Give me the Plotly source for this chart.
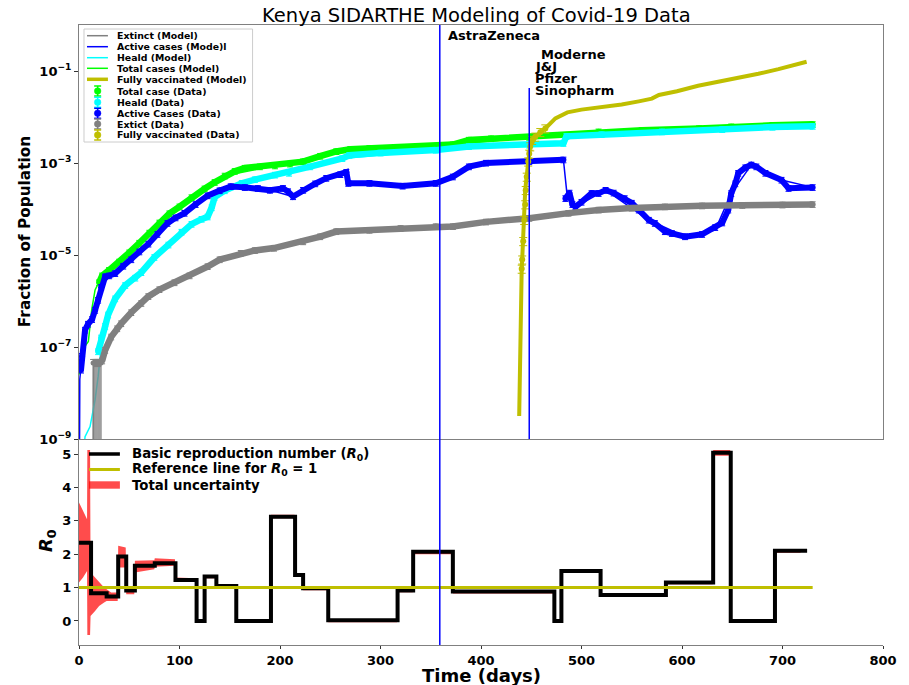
import plotly.graph_objects as go

# ---------------- Compartment data (day, log10 of fraction of population) ----------------
total_days = [20, 23, 30, 40, 50, 60, 70, 80, 90, 100, 112, 125, 135, 145, 155, 165, 180, 195,
              210, 223, 240, 256, 270, 289, 320, 355, 372, 388, 410, 448, 487, 517, 560, 617,
              649, 690, 730]
total_log = [-5.6, -5.45, -5.33, -5.15, -4.95, -4.74, -4.52, -4.3, -4.1, -3.95, -3.75, -3.56,
             -3.42, -3.28, -3.18, -3.11, -3.08, -3.06, -3.02, -2.97, -2.85, -2.75, -2.7, -2.68,
             -2.66, -2.64, -2.6, -2.5, -2.47, -2.44, -2.39, -2.32, -2.29, -2.25, -2.21, -2.18,
             -2.16]

heald_days = [19, 22, 26, 29, 36, 46, 56, 62, 75, 89, 102, 112, 122, 128, 132, 135, 145, 162,
              175, 195, 209, 230, 262, 269, 300, 355, 388, 448, 482, 485, 520, 580, 640, 690, 730]
heald_log = [-7.1, -6.8, -6.55, -6.3, -5.95, -5.66, -5.5, -5.38, -5.05, -4.78, -4.5, -4.33,
             -4.22, -4.17, -3.97, -3.74, -3.6, -3.44, -3.36, -3.26, -3.22, -3.08, -2.9, -2.83,
             -2.78, -2.72, -2.64, -2.61, -2.57, -2.42, -2.38, -2.32, -2.27, -2.22, -2.2]

active_days = [2, 3, 6, 9, 13, 16, 19, 22, 26, 30, 36, 44, 52, 60, 69, 78, 88, 96, 105, 116,
               128, 140, 151, 165, 178, 190, 203, 208, 213, 223, 235, 246, 260, 266, 268, 289,
               322, 355, 372, 388, 405, 448, 482,
               None,
               484, 488, 491, 494, 500, 510, 517, 524, 532, 543, 550, 557, 567, 573, 583, 590,
               603, 620, 633, 640, 646, 649, 653, 656, 663, 669, 674, 683, 699, 706, 730]
active_log = [-7.5, -7.2, -6.63, -6.5, -6.4, -6.2, -5.98, -5.7, -5.47, -5.45, -5.4, -5.24,
              -5.1, -4.93, -4.76, -4.55, -4.31, -4.19, -4.09, -3.9, -3.71, -3.6, -3.51, -3.53,
              -3.55, -3.59, -3.55, -3.62, -3.73, -3.59, -3.45, -3.33, -3.25, -3.2, -3.44, -3.44,
              -3.5, -3.44, -3.3, -3.08, -3.0, -2.97, -2.93,
              None,
              -3.77, -3.65, -3.9, -3.95, -3.85, -3.66, -3.66, -3.59, -3.65, -3.77, -3.87, -4.02,
              -4.24, -4.31, -4.49, -4.53, -4.6, -4.55, -4.4, -4.3, -4.02, -3.66, -3.45, -3.22,
              -3.1, -3.04, -3.08, -3.22, -3.37, -3.55, -3.53]

extinct_days = [23, 26, 32, 38, 42, 52, 62, 69, 80, 95, 110, 128, 140, 161, 175, 194, 223, 240,
                256, 289, 320, 355, 372, 405, 448, 487, 517, 550, 583, 620, 660, 700, 730]
extinct_log = [-7.3, -7.07, -6.78, -6.6, -6.49, -6.25, -6.05, -5.9, -5.75, -5.6, -5.45, -5.25,
               -5.1, -4.96, -4.9, -4.85, -4.71, -4.6, -4.49, -4.46, -4.42, -4.38, -4.38, -4.28,
               -4.2, -4.09, -4.02, -3.98, -3.95, -3.93, -3.92, -3.91, -3.9]
# first extinct reports, whose error bars reach below the plotted range
extinct_early_days = [14, 15, 16, 17, 18, 19, 20, 21, 22]
extinct_early_log = [-7.35, -7.35, -7.35, -7.35, -7.35, -7.35, -7.35, -7.35, -7.35]

vacc_days = [440.5, 441, 442, 443, 444, 444.5, 445.5, 447, 448, 449, 451, 454, 459, 464]
vacc_log = [-5.3, -5.1, -4.7, -4.24, -3.9, -3.59, -3.3, -2.97, -2.8, -2.64, -2.5, -2.43, -2.33,
            -2.25]

# ---------------- Model curves ----------------
total_model_days = [0, 1, 3, 9.3, 12.6, 16, 22.5, 30, 50, 80, 112, 145, 195, 256, 355, 448,
                    520, 640, 730]
total_model_log = [-7.6, -7.5, -7.07, -6.88, -6.2, -5.76, -5.47, -5.33, -4.95, -4.3, -3.75,
                   -3.28, -3.06, -2.75, -2.64, -2.44, -2.33, -2.24, -2.16]

heald_model_days = [4, 6, 11, 16, 19, 22, 26, 36, 56, 89, 112, 128, 135, 162, 195, 262, 355,
                    448, 482, 486, 600, 730]
heald_model_log = [-9.5, -8.95, -8.73, -8.15, -7.65, -7.0, -6.6, -5.95, -5.5, -4.78, -4.33,
                   -4.17, -3.74, -3.44, -3.26, -2.9, -2.72, -2.61, -2.57, -2.42, -2.3, -2.2]

active_model_days = [0, 0.8, 3, 6, 13, 19, 26, 36, 52, 69, 88, 105, 128, 151, 190, 213, 246,
                     266, 268, 322, 355, 388, 405, 482, 486, 494, 524, 567, 603, 633, 649, 669,
                     699, 730]
active_model_log = [-12, -7.7, -7.2, -6.63, -6.4, -5.98, -5.47, -5.4, -5.1, -4.76, -4.31,
                    -4.09, -3.71, -3.51, -3.59, -3.73, -3.33, -3.2, -3.44, -3.5, -3.44, -3.08,
                    -3.0, -2.93, -3.77, -3.95, -3.59, -4.24, -4.6, -4.46, -3.66, -3.04, -3.37,
                    -3.53]

extinct_model_days = [14, 14.5, 23, 32, 42, 62, 95, 128, 161, 194, 256, 355, 448, 517, 583, 730]
extinct_model_log = [-12, -7.35, -7.3, -6.78, -6.49, -6.05, -5.6, -5.25, -4.96, -4.85, -4.49,
                     -4.38, -4.2, -4.02, -3.95, -3.9]

vacc_model_days = [438, 438.5, 439, 439.7, 440.5, 441, 443, 444, 447, 449, 454, 464, 474, 486,
                   500, 517, 540, 557, 570, 577, 595, 616, 636, 656, 676, 696, 716, 724]
vacc_model_log = [-8.5, -7.5, -7.0, -6.0, -5.3, -5.1, -4.24, -3.59, -2.97, -2.64, -2.43, -2.25,
                  -2.03, -1.9, -1.84, -1.8, -1.73, -1.66, -1.6, -1.52, -1.44, -1.32, -1.24,
                  -1.15, -1.06, -0.96, -0.84, -0.8]

# ---------------- Vaccine roll-out ----------------
astra_day = 359
sinopharm_day = 448
sinopharm_top_log = -1.37
vaccine_names = ["AstraZeneca", "Moderne", "J&J", "Pfizer", "Sinopharm"]
vaccine_label_days = [365, 457.5, 451.5, 452, 452]
vaccine_label_log = [-0.22, -0.64, -0.91, -1.17, -1.42]

# ---------------- Basic reproduction number ----------------
r0_days = [0, 12, 27.5, 39, 47, 55.6, 75.4, 96, 117, 125, 136.7, 156.5, 191, 215, 223, 248, 317,
           332.5, 372, 473, 480, 519, 584, 631, 648.5, 692.5, 724.5]
r0_vals = [2.34, 0.83, 0.73, 1.93, 0.91, 1.65, 1.73, 1.23, 0.0, 1.33, 1.05, 0.0, 3.12, 1.38,
           0.98, 0.02, 0.91, 2.07, 0.88, 0.0, 1.5, 0.78, 1.15, 5.04, 0.0, 2.1, 2.1]

band_days = [0, 4, 8, 8.3, 11, 11.5, 16, 20, 25, 27.5, 32, 38.5, 39, 46.5, 47, 55, 55.6, 75,
             75.4, 95.5, 96, 116.5, 117, 124.5, 125, 136, 136.7, 156, 156.5, 190.5, 191, 214.5,
             215, 222.5, 223, 247.5, 248, 316.5, 317, 332, 332.5, 371.5, 372, 472.5, 473, 479.5,
             480, 518.5, 519, 583.5, 584, 630.5, 631, 648, 648.5, 692, 692.5, 718]
band_lo = [1.15, 1.3, 1.5, -0.42, -0.42, 0.15, 0.3, 0.45, 0.55, 0.6, 0.6, 0.6, 1.6, 1.6, 0.8,
           0.8, 1.45, 1.55, 1.62, 1.65, 1.18, 1.18, -0.05, -0.05, 1.28, 1.28, 1.0, 1.0, -0.05,
           -0.05, 3.08, 3.08, 1.33, 1.33, 0.92, 0.92, -0.04, -0.04, 0.86, 0.86, 2.0, 2.0, 0.82,
           0.82, -0.05, -0.05, 1.44, 1.44, 0.72, 0.72, 1.1, 1.1, 4.95, 4.95, -0.05, -0.05,
           2.04, 2.04]
band_hi = [3.55, 3.3, 3.05, 5.12, 5.12, 1.45, 1.3, 1.15, 1.0, 0.95, 0.85, 0.85, 2.25, 2.2, 1.0,
           0.98, 1.8, 1.82, 1.88, 1.85, 1.3, 1.28, 0.05, 0.05, 1.38, 1.38, 1.1, 1.08, 0.05,
           0.05, 3.18, 3.18, 1.43, 1.43, 1.02, 1.02, 0.06, 0.06, 0.95, 0.95, 2.12, 2.12, 0.92,
           0.92, 0.05, 0.05, 1.55, 1.55, 0.83, 0.83, 1.2, 1.2, 5.12, 5.12, 0.05, 0.05, 2.15,
           2.15]
ref_days = [0, 730]
ref_vals = [1, 1]

# axis ticks
top_tick_exps = [-9, -7, -5, -3, -1]
bottom_x_ticks = [0, 100, 200, 300, 400, 500, 600, 700, 800]
bottom_y_ticks = [0, 1, 2, 3, 4, 5]

# ---------------- Styling ----------------
GREY = "#808080"
BLUE = "#0000ff"
CYAN = "#00ffff"
GREEN = "#00ff00"
OLIVE = "#bfbf00"
FONT = "DejaVu Sans"
W, H = 909, 685
ML, MR, MT, MB = 79, 24, 25, 40
PW, PH = W - ML - MR, H - MT - MB
SPLIT = (645 - 439) / PH


def px_x(px):
    return (px - ML) / PW


def px_y(py):
    return (H - MB - py) / PH


def pow10(exps):
    return [None if e is None else 10 ** e for e in exps]


fig = go.Figure()


def model_line(days, logs, color, width=1.5):
    fig.add_trace(go.Scatter(x=days, y=pow10(logs), mode="lines",
                             line=dict(color=color, width=width),
                             xaxis="x", yaxis="y", showlegend=False, hoverinfo="skip"))


def data_line(days, logs, color, err=14, minus=None, lw=6.5, ms=6):
    ey = dict(type="percent", value=err, color=color, thickness=1, width=3)
    if minus is not None:
        ey["symmetric"] = False
        ey["valueminus"] = minus
    fig.add_trace(go.Scatter(x=days, y=pow10(logs), mode="lines+markers",
                             line=dict(color=color, width=lw),
                             marker=dict(color=color, size=ms), error_y=ey,
                             connectgaps=False,
                             xaxis="x", yaxis="y", showlegend=False, hoverinfo="skip"))


# model curves (thin)
model_line(extinct_model_days, extinct_model_log, GREY)
model_line(active_model_days, active_model_log, BLUE)
model_line(heald_model_days, heald_model_log, CYAN)
model_line(total_model_days, total_model_log, GREEN)

# reported data (thick with error bars)
data_line(total_days, total_log, GREEN)
data_line(heald_days, heald_log, CYAN)
data_line(active_days, active_log, BLUE, lw=6)
data_line(extinct_days, extinct_log, GREY)
data_line(extinct_early_days, extinct_early_log, GREY, err=20, minus=99.999, lw=8, ms=5)
fig.add_trace(go.Scatter(x=vacc_days, y=pow10(vacc_log), mode="markers",
                         marker=dict(color=OLIVE, size=6),
                         error_y=dict(type="percent", value=20, color=OLIVE, thickness=1,
                                      width=4),
                         xaxis="x", yaxis="y", showlegend=False, hoverinfo="skip"))
model_line(vacc_model_days, vacc_model_log, OLIVE, width=4)

# Sinopharm start marker line (top panel only)
fig.add_trace(go.Scatter(x=[sinopharm_day, sinopharm_day],
                         y=pow10([-9, sinopharm_top_log]), mode="lines",
                         line=dict(color=BLUE, width=1.5), xaxis="x", yaxis="y",
                         showlegend=False, hoverinfo="skip"))

# R0 panel
fig.add_trace(go.Scatter(x=band_days, y=band_lo, mode="lines", line=dict(width=0),
                         xaxis="x2", yaxis="y2", showlegend=False, hoverinfo="skip"))
fig.add_trace(go.Scatter(x=band_days, y=band_hi, mode="lines", line=dict(width=0),
                         fill="tonexty", fillcolor="rgba(255,0,0,0.7)",
                         xaxis="x2", yaxis="y2", showlegend=False, hoverinfo="skip"))
fig.add_trace(go.Scatter(x=r0_days, y=r0_vals, mode="lines", line_shape="hv",
                         line=dict(color="black", width=4),
                         xaxis="x2", yaxis="y2", showlegend=False, hoverinfo="skip"))
fig.add_trace(go.Scatter(x=ref_days, y=ref_vals, mode="lines",
                         line=dict(color=OLIVE, width=3),
                         xaxis="x2", yaxis="y2", showlegend=False, hoverinfo="skip"))

shapes = []
annotations = []

# AstraZeneca start line spans both panels
shapes.append(dict(type="line", xref="x", yref="paper", x0=astra_day, x1=astra_day,
                   y0=0, y1=1, line=dict(color=BLUE, width=1.5), layer="above"))

for name, d, lg in zip(vaccine_names, vaccine_label_days, vaccine_label_log):
    annotations.append(dict(text=name, x=d, y=lg, xref="x", yref="y", xanchor="left",
                            yanchor="middle", showarrow=False,
                            font=dict(family=FONT, size=13, color="black", weight="bold")))

# ---- top legend ----
shapes.append(dict(type="rect", xref="paper", yref="paper", x0=px_x(84), x1=px_x(253),
                   y0=px_y(142), y1=px_y(29), fillcolor="white",
                   line=dict(color="#cccccc", width=1), layer="above"))
legend_rows = [
    ("Extinct (Model)", GREY, "line", 1.5),
    ("Active cases (Mode)l", BLUE, "line", 1.5),
    ("Heald (Model)", CYAN, "line", 1.5),
    ("Total cases (Model)", GREEN, "line", 1.5),
    ("Fully vaccinated (Model)", OLIVE, "line", 3.5),
    ("Total case (Data)", GREEN, "marker", 0),
    ("Heald (Data)", CYAN, "marker", 0),
    ("Active Cases (Data)", BLUE, "marker", 0),
    ("Extict (Data)", GREY, "marker", 0),
    ("Fully vaccinated (Data)", OLIVE, "marker", 0),
]
row_y = [35.7, 46.7, 57.7, 68.3, 79.3, 91, 102.3, 113.3, 124, 135]
for (label, col, kind, lw), ry in zip(legend_rows, row_y):
    if kind == "line":
        shapes.append(dict(type="line", xref="paper", yref="paper", x0=px_x(87), x1=px_x(108),
                           y0=px_y(ry), y1=px_y(ry), line=dict(color=col, width=lw),
                           layer="above"))
    else:
        cx = 97.7
        shapes.append(dict(type="line", xref="paper", yref="paper", x0=px_x(cx), x1=px_x(cx),
                           y0=px_y(ry - 5), y1=px_y(ry + 5), line=dict(color=col, width=1.5),
                           layer="above"))
        for dy in (-5, 5):
            shapes.append(dict(type="line", xref="paper", yref="paper", x0=px_x(cx - 3.5),
                               x1=px_x(cx + 3.5), y0=px_y(ry + dy), y1=px_y(ry + dy),
                               line=dict(color=col, width=1.5), layer="above"))
        shapes.append(dict(type="circle", xref="paper", yref="paper", x0=px_x(cx - 3.3),
                           x1=px_x(cx + 3.3), y0=px_y(ry + 3.3), y1=px_y(ry - 3.3),
                           fillcolor=col, line=dict(color=col, width=0.5), layer="above"))
    annotations.append(dict(text=label, xref="paper", yref="paper", x=px_x(115), y=px_y(ry),
                            xanchor="left", yanchor="middle", showarrow=False,
                            font=dict(family=FONT, size=9.4, color="black", weight="bold")))

# ---- bottom legend ----
bl_rows = [
    ("Basic reproduction number (<i>R</i><sub>0</sub>)", "black", "line", 3.5, 454),
    ("Reference line for <i>R</i><sub>0</sub> = 1", OLIVE, "line", 3, 469.5),
    ("Total uncertainty", "rgba(255,0,0,0.7)", "rect", 0, 485),
]
for label, col, kind, lw, ry in bl_rows:
    if kind == "line":
        shapes.append(dict(type="line", xref="paper", yref="paper", x0=px_x(89), x1=px_x(120),
                           y0=px_y(ry), y1=px_y(ry), line=dict(color=col, width=lw),
                           layer="above"))
    else:
        shapes.append(dict(type="rect", xref="paper", yref="paper", x0=px_x(89), x1=px_x(120),
                           y0=px_y(ry + 3.7), y1=px_y(ry - 3.7), fillcolor=col,
                           line=dict(width=0), layer="above"))
    annotations.append(dict(text=label, xref="paper", yref="paper", x=px_x(130), y=px_y(ry),
                            xanchor="left", yanchor="middle", showarrow=False,
                            font=dict(family=FONT, size=13.3, color="black", weight="bold")))

# titles
annotations.append(dict(text="Kenya SIDARTHE Modeling of Covid-19 Data", xref="paper",
                        yref="paper", x=px_x(477), y=px_y(15), xanchor="center",
                        yanchor="middle", showarrow=False,
                        font=dict(family=FONT, size=19.5, color="black")))
annotations.append(dict(text="Fraction of Population", xref="paper", yref="paper",
                        x=px_x(25), y=px_y(232), xanchor="center", yanchor="middle",
                        textangle=-90, showarrow=False,
                        font=dict(family=FONT, size=15.3, color="black", weight="bold")))
annotations.append(dict(text="<i>R</i><sub>0</sub>", xref="paper", yref="paper",
                        x=px_x(47), y=px_y(541), xanchor="center", yanchor="middle",
                        textangle=-90, showarrow=False,
                        font=dict(family=FONT, size=18, color="black", weight="bold")))
annotations.append(dict(text="Time (days)", xref="paper", yref="paper",
                        x=px_x(483), y=px_y(675), xanchor="center", yanchor="middle",
                        showarrow=False,
                        font=dict(family=FONT, size=18, color="black", weight="bold")))

tickfont = dict(family=FONT, size=13, color="black", weight="bold")
axis_common = dict(showgrid=False, zeroline=False, showline=True, linecolor=GREY,
                   linewidth=1)

fig.update_layout(
    width=W, height=H,
    margin=dict(l=ML, r=MR, t=MT, b=MB),
    paper_bgcolor="white", plot_bgcolor="white",
    showlegend=False,
    xaxis=dict(domain=[0, 1], anchor="y", range=[0, 800], mirror=True,
               showticklabels=False, ticks="", **axis_common),
    yaxis=dict(domain=[SPLIT, 1], anchor="x", type="log", range=[-9, 0], mirror=True,
               tickvals=pow10(top_tick_exps),
               ticktext=["10<sup>\u2212%d</sup>" % (-e) for e in top_tick_exps],
               ticks="outside", ticklen=4, tickcolor="#333", tickfont=tickfont,
               **axis_common),
    xaxis2=dict(domain=[0, 1], anchor="y2", range=[0, 800], tickvals=bottom_x_ticks,
                ticks="outside", ticklen=3, tickcolor="#333", tickfont=tickfont,
                **axis_common),
    yaxis2=dict(domain=[0, SPLIT], anchor="x2", range=[-0.72, 5.45], tickvals=bottom_y_ticks,
                ticks="outside", ticklen=4, tickcolor="#333", tickfont=tickfont,
                **axis_common),
    shapes=shapes,
    annotations=annotations,
)

fig.write_html("out.html")
